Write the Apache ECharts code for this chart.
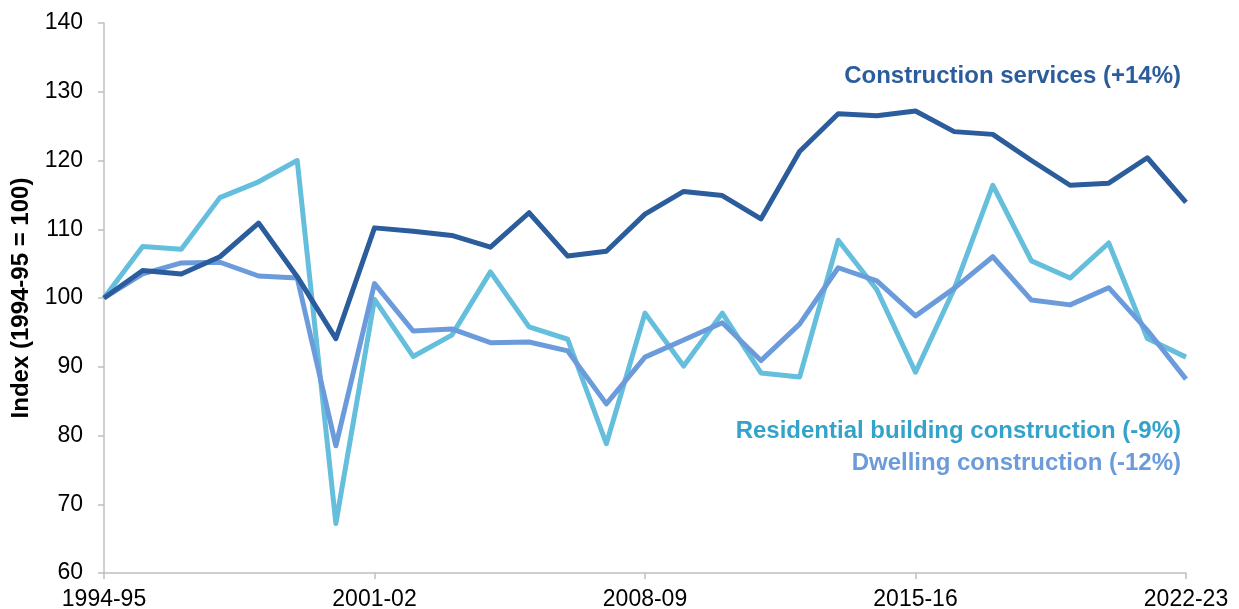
<!DOCTYPE html>
<html>
<head>
<meta charset="utf-8">
<script src="https://cdn.jsdelivr.net/npm/echarts@6/dist/echarts.min.js"></script>
<style>
  html, body { margin: 0; padding: 0; background: #fff; }
  #main { width: 1239px; height: 609px; }
</style>
</head>
<body>
<div id="main"></div>
<script>
  var years = ['1994-95', '1995-96', '1996-97', '1997-98', '1998-99', '1999-00', '2000-01',
    '2001-02', '2002-03', '2003-04', '2004-05', '2005-06', '2006-07', '2007-08', '2008-09',
    '2009-10', '2010-11', '2011-12', '2012-13', '2013-14', '2014-15', '2015-16', '2016-17',
    '2017-18', '2018-19', '2019-20', '2020-21', '2021-22', '2022-23']

  var constructionServices = [100, 104.0, 103.5, 106.0, 110.9, 103.1, 94.1, 110.2, 109.7, 109.1,
    107.4, 112.4, 106.1, 106.8, 112.2, 115.5, 114.9, 111.5, 121.3, 126.8, 126.5, 127.2,
    124.2, 123.8, 120.0, 116.4, 116.7, 120.4, 113.9]

  var residentialBuilding = [100, 107.5, 107.1, 114.6, 116.9, 120.0, 67.2, 99.8, 91.5, 94.6,
    103.8, 95.8, 94.0, 78.8, 97.8, 90.1, 97.8, 89.1, 88.5, 108.4, 101.2, 89.2,
    101.3, 116.4, 105.4, 102.9, 108.0, 94.1, 91.4]

  var dwelling = [100, 103.5, 105.1, 105.2, 103.2, 102.9, 78.5, 102.1, 95.2, 95.5,
    93.5, 93.6, 92.3, 84.6, 91.4, 93.9, 96.4, 90.9, 96.2, 104.4, 102.5, 97.4,
    101.4, 106.0, 99.7, 99.0, 101.5, 95.3, 88.2]

  var yTicks = [60, 70, 80, 90, 100, 110, 120, 130, 140]

  var myChart = echarts.init(document.getElementById('main'))

  var lineSeries = function (name, data, color) {
    return {
      name: name,
      type: 'line',
      data: data,
      symbol: 'none',
      lineStyle: {color: color, width: 5, join: 'round'},
      itemStyle: {color: color}
    }
  }

  var labelFont = 'bold 24px Liberation Sans, Arial, sans-serif'

  myChart.setOption({
    animation: false,
    textStyle: {fontFamily: 'Liberation Sans, Arial, sans-serif'},
    grid: {left: 104, right: 53, top: 23, bottom: 36, containLabel: false, outerBoundsMode: 'none'},
    xAxis: {
      type: 'category',
      data: years,
      boundaryGap: false,
      axisLine: {lineStyle: {color: '#bfbfbf', width: 1.5}},
      axisTick: {interval: 6, length: 6, lineStyle: {color: '#bfbfbf', width: 1.5}},
      axisLabel: {interval: 6, color: '#000', fontSize: 23, margin: 15}
    },
    yAxis: {
      type: 'value',
      min: yTicks[0],
      max: yTicks[yTicks.length - 1],
      interval: 10,
      name: 'Index (1994-95 = 100)',
      nameLocation: 'middle',
      nameRotate: 90,
      nameGap: 69,
      nameTextStyle: {color: '#000', fontSize: 24, fontWeight: 'bold'},
      axisLine: {show: true, lineStyle: {color: '#bfbfbf', width: 1.5}},
      axisTick: {show: true, length: 6, lineStyle: {color: '#bfbfbf', width: 1.5}},
      axisLabel: {color: '#000', fontSize: 23, margin: 21},
      splitLine: {show: false}
    },
    graphic: [
      {
        type: 'text', right: 58, top: 64,
        style: {text: 'Construction services (+14%)', fill: '#2b5c9b', font: labelFont}
      },
      {
        type: 'text', right: 58, top: 419,
        style: {text: 'Residential building construction (-9%)', fill: '#34a3c9', font: labelFont}
      },
      {
        type: 'text', right: 58, top: 451,
        style: {text: 'Dwelling construction (-12%)', fill: '#6b9bda', font: labelFont}
      }
    ],
    series: [
      lineSeries('Residential building construction', residentialBuilding, '#64bedc'),
      lineSeries('Dwelling construction', dwelling, '#6b9bda'),
      lineSeries('Construction services', constructionServices, '#2b5c9b')
    ]
  })
</script>
</body>
</html>
